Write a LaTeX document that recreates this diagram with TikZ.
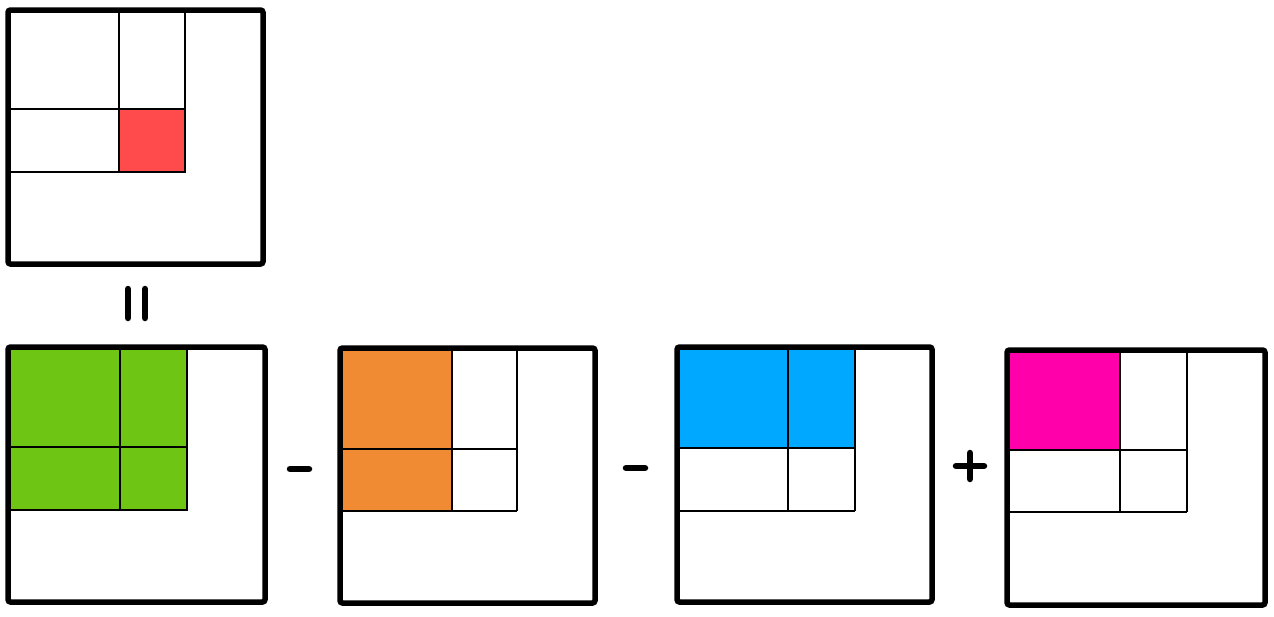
\documentclass[tikz,border=0pt]{standalone}
\begin{document}
\begin{tikzpicture}[x=1pt,y=-1pt,
  outerbox/.style={draw=black,line width=5.5pt,rounded corners=2.5pt},
  innerline/.style={draw=black,line width=2pt},
  signline/.style={draw=black,line width=6.5pt,line cap=round},
  cellfill/.style={fill=#1,draw=black,line width=1.2pt}]
\definecolor{cred}{HTML}{FF4B4B}
\definecolor{cgreen}{HTML}{6EC514}
\definecolor{corange}{HTML}{F08A33}
\definecolor{cblue}{HTML}{00A8FF}
\definecolor{cmag}{HTML}{FF00AA}
\useasboundingbox[fill=white] (0,0) rectangle (1274,616);

% ---- top box ----
\path[cellfill=cred] (119,109) rectangle (185,172);
\draw[innerline] (119,10) -- (119,172);
\draw[innerline] (185,10) -- (185,172);
\draw[innerline] (8,109) -- (185,109);
\draw[innerline] (8,172) -- (185,172);
\draw[outerbox] (8,10) rectangle (263,264);

% ---- equals sign (vertical) ----
\draw[signline] (128,289) -- (128,318);
\draw[signline] (145,289) -- (145,318);

% ---- box 1 green ----
\path[cellfill=cgreen] (8,347) rectangle (187,510);
\draw[innerline] (120,347) -- (120,510);
\draw[innerline] (8,447) -- (187,447);
\draw[outerbox] (8,347) rectangle (265,602);

% minus
\draw[signline] (290,469) -- (309,469);

% ---- box 2 orange ----
\path[cellfill=corange] (340,348) rectangle (452,511);
\draw[innerline] (452,348) -- (452,511);
\draw[innerline] (517,348) -- (517,511);
\draw[innerline] (340,449) -- (517,449);
\draw[innerline] (340,511) -- (517,511);
\draw[outerbox] (340,348) rectangle (595,603);

% minus
\draw[signline] (626,468) -- (645,468);

% ---- box 3 blue ----
\path[cellfill=cblue] (677,347) rectangle (855,448);
\draw[innerline] (788,347) -- (788,511);
\draw[innerline] (855,347) -- (855,511);
\draw[innerline] (677,448) -- (855,448);
\draw[innerline] (677,511) -- (855,511);
\draw[outerbox] (677,347) rectangle (932,602);

% plus
\draw[signline] (956,466) -- (984,466);
\draw[signline] (970,453) -- (970,479);

% ---- box 4 magenta ----
\path[cellfill=cmag] (1007,350) rectangle (1120,450);
\draw[innerline] (1120,350) -- (1120,512);
\draw[innerline] (1187,350) -- (1187,512);
\draw[innerline] (1007,450) -- (1187,450);
\draw[innerline] (1007,512) -- (1187,512);
\draw[outerbox] (1007,350) rectangle (1265,605);
\end{tikzpicture}
\end{document}
